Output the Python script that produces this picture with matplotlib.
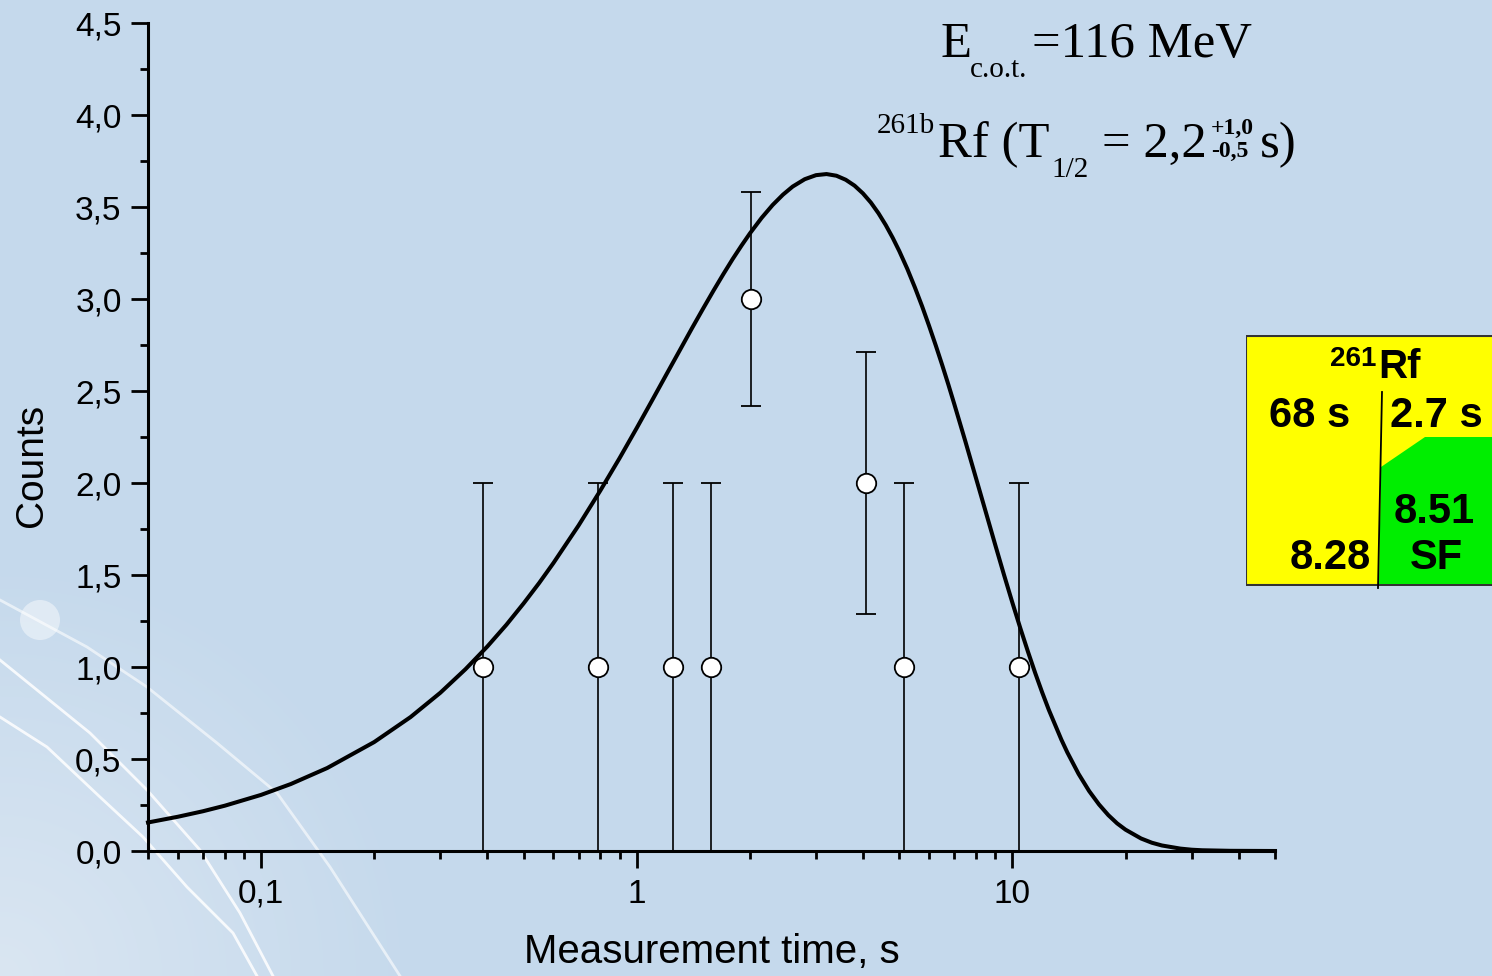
import numpy as np
import matplotlib
matplotlib.use('Agg')
import matplotlib.pyplot as plt
import matplotlib.ticker as mlt
from matplotlib.patches import Rectangle, Polygon, Circle

# measured points
t_meas = [0.39, 0.79, 1.25, 1.58, 2.01, 4.07, 5.14, 10.4]
counts = [1, 1, 1, 1, 3, 2, 1, 1]
err_lo = [1.0, 1.0, 1.0, 1.0, 0.58, 0.71, 1.0, 1.0]
err_hi = [1.0, 1.0, 1.0, 1.0, 0.58, 0.71, 1.0, 1.0]

# fitted curve
t_fit = [0.05, 0.06, 0.07, 0.08, 0.1, 0.12, 0.15, 0.2, 0.25, 0.3, 0.35, 0.4, 0.45,
         0.5, 0.55, 0.6, 0.7, 0.8, 0.9, 1.0, 1.1, 1.2, 1.3, 1.4, 1.5, 1.6, 1.7, 1.8,
         1.9, 2.0, 2.15, 2.3, 2.45, 2.6, 2.8, 3.0, 3.2, 3.4, 3.6, 3.8, 4.0, 4.2, 4.4,
         4.6, 4.8, 5.0, 5.25, 5.5, 5.75, 6.0, 6.25, 6.5, 6.75, 7.0, 7.5, 8.0, 8.5,
         9.0, 9.5, 10, 10.5, 11, 11.5, 12, 12.5, 13.5, 14, 15, 16, 17, 18, 19, 20,
         22, 23.5, 25, 28, 30, 32, 38, 50]
n_fit = [0.155, 0.186, 0.216, 0.246, 0.305, 0.364, 0.451, 0.592, 0.728, 0.860, 0.988,
         1.111, 1.230, 1.346, 1.457, 1.565, 1.769, 1.959, 2.135, 2.299, 2.451, 2.591,
         2.719, 2.838, 2.946, 3.045, 3.135, 3.217, 3.290, 3.356, 3.441, 3.511, 3.567,
         3.611, 3.651, 3.673, 3.679, 3.670, 3.648, 3.616, 3.574, 3.524, 3.466, 3.402,
         3.333, 3.260, 3.164, 3.063, 2.960, 2.854, 2.748, 2.642, 2.536, 2.430, 2.224,
         2.026, 1.840, 1.664, 1.500, 1.349, 1.210, 1.083, 0.967, 0.862, 0.767, 0.605,
         0.536, 0.419, 0.326, 0.253, 0.195, 0.150, 0.116, 0.068, 0.045, 0.030, 0.013,
         0.007, 0.004, 0.001, 0.0]

x_ticks = [0.1, 1, 10]
x_ticklabels = ['0,1', '1', '10']

W, H = 1492, 976
bg_col = '#C5D9EC'


def px(x, y):
    return x / W, 1 - y / H


fig = plt.figure(figsize=(W / 100, H / 100), dpi=100, facecolor=bg_col)

# background gradient + decorative arcs
bg = fig.add_axes([0, 0, 1, 1], zorder=-10)
yy, xx = np.mgrid[0:H, 0:W]
r = np.hypot(xx, H - yy)
w = np.clip(1 - r / 420, 0, 1)[..., None]
c0 = np.array([197, 217, 236]) / 255
c1 = np.array([218, 230, 242]) / 255
bg.imshow(c0 * (1 - w) + c1 * w, extent=[0, W, H, 0], aspect='auto')
bg.set_xlim(0, W)
bg.set_ylim(H, 0)
bg.axis('off')
arcs = [
    ([0, 87, 147, 217, 277, 330, 400], [600, 647, 687, 743, 793, 867, 976], 0.6),
    ([0, 90, 147, 200, 240, 273], [660, 733, 790, 850, 913, 976], 0.85),
    ([0, 47, 100, 143, 187, 233, 257], [717, 747, 797, 837, 887, 933, 976], 0.85),
]
for ax_, ay_, a in arcs:
    bg.plot(ax_, ay_, color='white', lw=2, alpha=a, solid_joinstyle='round')
bg.add_patch(Circle((40, 620), 20, color='white', alpha=0.45, lw=0))

ax = fig.add_axes([148 / W, 1 - 851 / H, 1127 / W, 828 / H])
ax.set_facecolor('none')
ax.set_xscale('log')
ax.set_xlim(0.05, 50)
ax.set_ylim(0, 4.5)

ax.plot(t_fit, n_fit, color='black', lw=2.9, zorder=3, clip_on=False,
        solid_joinstyle='round')
ax.errorbar(t_meas, counts, yerr=[err_lo, err_hi], fmt='o', color='black',
            ecolor='black', elinewidth=1.2, capsize=7.5, capthick=1.2,
            markersize=14, markerfacecolor='white', markeredgecolor='black',
            markeredgewidth=1.3, zorder=4)

for s in ['top', 'right']:
    ax.spines[s].set_visible(False)
for s in ['left', 'bottom']:
    ax.spines[s].set_linewidth(2.2)

ax.set_xticks(x_ticks)
ax.set_xticklabels(x_ticklabels)
ax.xaxis.set_minor_locator(mlt.LogLocator(base=10, subs=np.arange(2, 10)))
ax.xaxis.set_minor_formatter(mlt.NullFormatter())
ax.yaxis.set_major_locator(mlt.MultipleLocator(0.5))
ax.yaxis.set_minor_locator(mlt.MultipleLocator(0.25))
ax.yaxis.set_major_formatter(mlt.FuncFormatter(lambda v, p: ('%.1f' % v).replace('.', ',')))
ax.tick_params(which='major', direction='out', length=12, width=2, labelsize=24,
               pad=7)
ax.tick_params(which='minor', direction='out', length=6, width=2)
ax.tick_params(axis='x', which='major', pad=8)
for lab in ax.get_xticklabels() + ax.get_yticklabels():
    lab.set_family('Liberation Sans')

ax.set_xlabel('Measurement time, s', fontsize=29, family='Liberation Sans')
ax.xaxis.set_label_coords(0.5, (851 - 933) / 828)
ax.set_ylabel('Counts', fontsize=28, family='Liberation Sans')
ax.yaxis.label.set_va('center')
ax.yaxis.set_label_coords((32 - 148) / 1127, (851 - 465) / 828)

# annotation text (serif)
serif = 'Liberation Serif'
big = 36.5
small = 21
pieces = [
    ('E', 940, 57, big, 'normal'),
    ('c.o.t.', 970, 77, small, 'normal'),
    ('=116 MeV', 1032, 57, big, 'normal'),
    ('261b', 877, 133, small, 'normal'),
    ('Rf (T', 938, 157, big, 'normal'),
    ('1/2', 1051, 177, small, 'normal'),
    ('= 2,2', 1102, 157, big, 'normal'),
    ('+1,0', 1211, 134, 17, 'bold'),
    ('-0,5', 1211, 157, 17, 'bold'),
    ('s)', 1260, 157, big, 'normal'),
]
for txt, x, y, fs, fw in pieces:
    fig.text(*px(x, y), txt, fontsize=fs, family=serif, weight=fw,
             ha='left', va='baseline')

# nuclide chart box
box = fig.add_axes([1246 / W, 1 - 586 / H, 250 / W, 251 / H])
box.set_xlim(1246, 1496)
box.set_ylim(586, 335)
box.axis('off')
box.add_patch(Rectangle((1246, 336), 260, 249, facecolor='#FFFF00',
                        edgecolor='#333333', lw=1.5))
box.add_patch(Polygon([(1381, 467), (1425, 437), (1496, 437), (1496, 584),
                       (1379, 584)], closed=True, facecolor='#00EE00', lw=0))
box.plot([1382, 1378], [392, 588], color='black', lw=1.3, clip_on=False)
sans = 'Liberation Sans'
fs_box = 30
box.text(1376, 366, '261', fontsize=20, weight='bold', family=sans, ha='right', va='baseline')
box.text(1378, 378, 'Rf', fontsize=29, weight='bold', family=sans, ha='left', va='baseline')
box.text(1310, 427, '68 s', fontsize=fs_box, weight='bold', family=sans, ha='center', va='baseline')
box.text(1436, 427, '2.7 s', fontsize=fs_box, weight='bold', family=sans, ha='center', va='baseline')
box.text(1434, 523, '8.51', fontsize=fs_box, weight='bold', family=sans, ha='center', va='baseline')
box.text(1436, 569, 'SF', fontsize=fs_box, weight='bold', family=sans, ha='center', va='baseline')
box.text(1371, 569, '8.28', fontsize=fs_box, weight='bold', family=sans, ha='right', va='baseline')

plt.savefig('out.png', dpi=100, facecolor=bg_col)
